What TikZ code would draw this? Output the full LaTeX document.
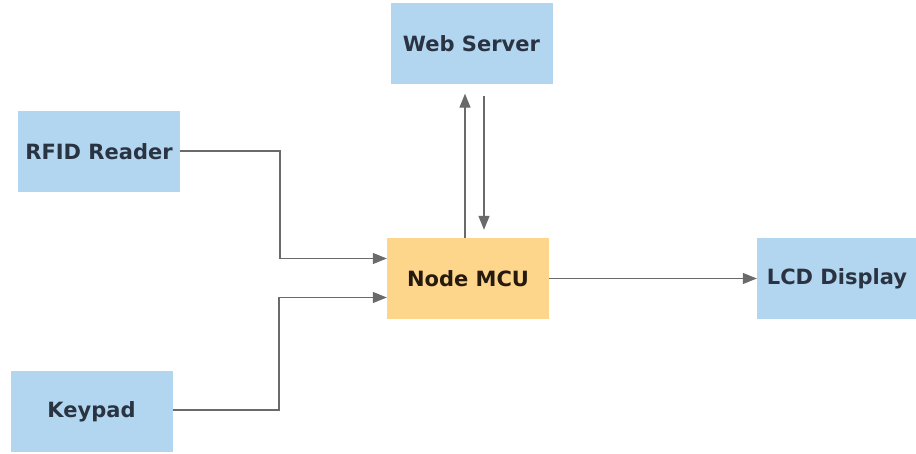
\documentclass[tikz,border=0pt]{standalone}
\usepackage{fontspec}
\setmainfont{DejaVu Sans}
\usetikzlibrary{positioning}
\usetikzlibrary{calc}
\usetikzlibrary{arrows.meta}
\definecolor{boxblue}{HTML}{B2D6EF}
\definecolor{boxorange}{HTML}{FDD68C}
\definecolor{txtdark}{HTML}{2A3342}
\definecolor{wire}{HTML}{6A6A6A}
\tikzset{blk/.style={fill=boxblue,minimum width=162pt,minimum height=81pt,inner sep=0pt,
  font=\fontsize{21}{24}\selectfont\bfseries,text=txtdark}}
\tikzset{mcu/.style={blk,fill=boxorange,text=black!80!brown}}
\tikzset{wr/.style={draw=wire,line width=1.2pt}}
\tikzset{>={Triangle[length=14pt,width=11pt]}}

\begin{document}
\begin{tikzpicture}[x=1pt,y=-1pt]
\useasboundingbox (0,0) rectangle (916,454);
\begin{scope}[on grid]

\node[mcu] (MCU) at (468, 278.5) {Node MCU};
\node[blk] (Web) at (471.5, 44) {Web Server};
\node[blk] (RFID) at (99, 151.5) {RFID Reader};
\node[blk] (Key) at (91.5, 411.5) {Keypad};
\node[blk,minimum width=160pt] (LCD) at (837, 278.5) {LCD Display};

\draw[wr,->] (RFID.east |- 0,151) -- (280,151) |- ($(MCU.west) + (0,-20)$);
\draw[wr,->] (Key.east |- 0,410) -- (279,410) |- ($(MCU.west) + (0,19)$);

\draw[wr,->] ($(MCU.north) + (-3,0)$) -- ($(Web.south) + (-6.5,9)$);
\draw[wr,->] ($(Web.south) + (12.5,11)$) -- ($(MCU.north) + (16,-8)$);

\draw[wr,->] (MCU.east) -- (LCD.west);

\end{scope}
\end{tikzpicture}
\end{document}
